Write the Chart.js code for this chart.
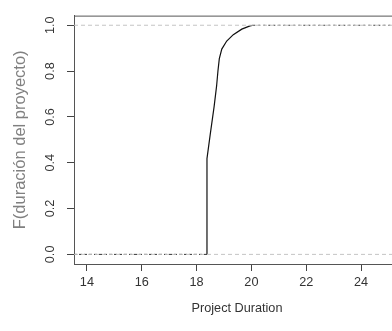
<!DOCTYPE html>
<html><head><meta charset="utf-8">
<script src="https://cdn.jsdelivr.net/npm/chart.js@4/dist/chart.umd.min.js"></script>
<style>
html,body{margin:0;padding:0;overflow:hidden;background:#fff;width:392px;height:331px}
#wrap{width:400px;height:331px}
</style>
</head><body><div id="wrap"><canvas id="c" width="400" height="331"></canvas></div>
<script>
// Tick labels
const xTicks = [14, 16, 18, 20, 22, 24];
const yTicks = [0, 0.2, 0.4, 0.6, 0.8, 1.0];
const durationX = [18.38, 18.38, 18.50, 18.64, 18.73, 18.78, 18.83, 18.92, 19.10, 19.34, 19.65, 19.95, 20.07];
const cdfF      = [0,     0.418, 0.525, 0.645, 0.734, 0.800, 0.854, 0.896, 0.931, 0.959, 0.983, 0.997, 1.0];
// Axis range
const xRange = [13.53, 25.42];
const yRange = [-0.042, 1.042];
// Horizontal reference levels
const refLevels = [0, 1];

const curve = durationX.map((x, i) => ({x: x, y: cdfF[i]}));
const lowerTail = [{x: xRange[0], y: cdfF[0]}, {x: durationX[0], y: cdfF[0]}];
const upperTail = [{x: durationX[durationX.length-1], y: cdfF[cdfF.length-1]}, {x: xRange[1], y: cdfF[cdfF.length-1]}];

const refSets = refLevels.map(v => ({
  data: [{x: xRange[0], y: v}, {x: xRange[1], y: v}],
  borderColor: '#c4c4c4', borderWidth: 1, borderDash: [4, 3], pointRadius: 0, fill: false
}));

const frameTop = {
  id: 'frameTop',
  afterDraw(chart) {
    const {ctx, chartArea: a} = chart;
    ctx.save();
    ctx.strokeStyle = '#555';
    ctx.lineWidth = 1;
    ctx.beginPath();
    ctx.moveTo(a.left, a.top + 0.5);
    ctx.lineTo(a.right, a.top + 0.5);
    ctx.stroke();
    ctx.restore();
  }
};

const FONT = "'Liberation Sans', Arial, sans-serif";

new Chart(document.getElementById('c'), {
  type: 'line',
  data: {
    datasets: [
      ...refSets,
      {data: lowerTail, borderColor: '#333', borderWidth: 1, borderDash: [3, 2], pointRadius: 0, fill: false},
      {data: upperTail, borderColor: '#444', borderWidth: 1.2, borderDash: [2, 3], pointRadius: 0, fill: false},
      {data: curve, borderColor: '#111', borderWidth: 1.2, pointRadius: 0, tension: 0, fill: false}
    ]
  },
  options: {
    responsive: false,
    animation: false,
    layout: {padding: {top: 7, left: 0, right: 0, bottom: 0}},
    plugins: {legend: {display: false}, tooltip: {enabled: false}},
    scales: {
      x: {
        type: 'linear', min: xRange[0], max: xRange[1],
        afterBuildTicks: s => { s.ticks = xTicks.map(v => ({value: v})); },
        afterFit: s => { s.height = 67; },
        grid: {drawOnChartArea: false, drawTicks: true, tickLength: 7, color: '#444'},
        border: {display: true, color: '#555', width: 1},
        ticks: {color: '#333', font: {family: FONT, size: 12.7}, padding: 4, maxRotation: 0, autoSkip: false},
        title: {display: true, text: 'Project Duration', color: '#333', font: {family: FONT, size: 12.7}, padding: {top: 0, bottom: 15}}
      },
      y: {
        type: 'linear', min: yRange[0], max: yRange[1],
        afterBuildTicks: s => { s.ticks = yTicks.map(v => ({value: v})); },
        afterFit: s => { s.width = 74; },
        grid: {drawOnChartArea: false, drawTicks: true, tickLength: 7, color: '#444'},
        border: {display: true, color: '#555', width: 1},
        ticks: {color: '#333', font: {family: FONT, size: 12.7}, padding: 8, minRotation: 90, maxRotation: 90, crossAlign: 'center',
                callback: v => Number(v).toFixed(1)},
        title: {display: true, text: 'F(duración del proyecto)', color: '#808080', font: {family: FONT, size: 16.5}, padding: {top: 11, bottom: 0}}
      }
    }
  },
  plugins: [frameTop]
});
</script>
</body></html>
